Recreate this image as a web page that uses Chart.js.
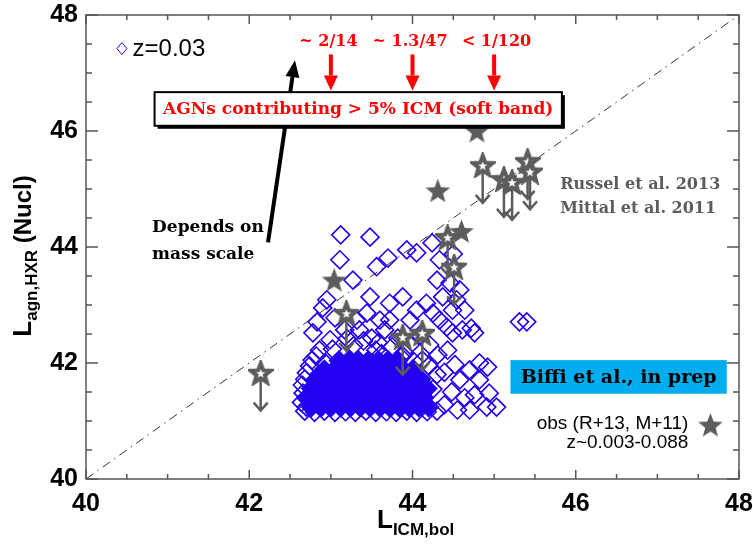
<!DOCTYPE html>
<html>
<head>
<meta charset="utf-8">
<script src="https://cdn.jsdelivr.net/npm/chart.js@4.4.0/dist/chart.umd.min.js"></script>
<style>html,body{margin:0;padding:0;background:#fff;}canvas{display:block;}</style>
</head>
<body>
<canvas id="myChart" width="753" height="551"></canvas>
<script>
// simulated AGN (z=0.03), hollow diamonds
var blueX = [43.12,43.48,43.11,43.27,43.56,43.70,43.93,44.05,44.24,44.33,44.50,44.30,44.46,44.58,44.37,44.54,44.64,44.49,44.72,44.61,44.76,44.49,
  44.82,44.92,44.70,44.82,44.94,45.03,44.91,45.31,45.40,42.95,42.90,42.83,42.78,42.70,42.66,42.70,43.48,43.72,43.88,44.05,43.97,44.17,44.25,44.33,44.42,
  43.44,43.32,43.60,43.72,43.05,43.17,42.99,42.86,42.77,43.35,43.50,43.66,43.82,43.97,44.09,44.21,44.31,44.43,44.52,44.39,44.58,44.48,44.64,44.76,44.70,44.55,44.39,
  42.68,42.80,42.92,43.05,43.18,43.30,43.43,43.55,43.68,43.80,43.93,44.05,44.18,44.30,
  42.64,42.65,42.68,42.74,42.82,43.20,43.40,43.58,43.75,43.90,44.25,44.30,44.20,
  43.02,43.28,43.55,43.86,44.12,42.93,43.62,44.02];
var blueY = [44.21,44.17,43.78,43.43,43.66,43.81,43.95,43.90,44.07,43.78,43.88,43.43,43.38,43.26,43.14,43.09,42.91,42.91,42.60,42.57,42.52,42.52,
  42.00,41.93,41.88,41.71,41.48,41.24,41.24,42.71,42.71,43.09,42.95,42.71,42.52,41.83,41.48,41.24,43.14,43.03,43.14,42.91,42.74,43.03,42.86,42.74,42.62,
  42.86,42.74,42.74,42.74,42.78,42.57,42.40,42.22,42.05,42.57,42.43,42.57,42.43,42.31,42.48,42.31,42.14,42.22,41.97,41.84,41.71,41.50,41.40,41.45,41.19,41.19,41.28,
  41.17,41.15,41.17,41.15,41.16,41.15,41.17,41.15,41.16,41.15,41.17,41.15,41.16,41.17,
  41.32,41.62,41.72,41.95,42.12,42.42,42.38,42.35,42.28,42.18,41.55,41.80,41.95,
  42.24,42.30,42.22,42.10,42.05,42.00,42.16,42.02];
// the dense part of the same cloud
var coreX = [42.76,42.88,43.00,43.12,43.24,43.36,43.48,43.60,43.72,43.84,43.96,44.08,44.20,
  42.70,42.82,42.94,43.06,43.18,43.30,43.42,43.54,43.66,43.78,43.90,44.02,44.14,
  42.76,42.88,43.00,43.12,43.24,43.36,43.48,43.60,43.72,43.84,43.96,44.08,44.18,
  42.82,42.94,43.06,43.18,43.30,43.42,43.54,43.66,43.78,43.90,44.02,44.10,
  42.92,43.04,43.16,43.28,43.40,43.52,43.64,43.76,43.88,44.00,
  43.10,43.22,43.34,43.46,43.58,43.70,43.82];
var coreY = [41.24,41.24,41.24,41.24,41.24,41.24,41.24,41.24,41.24,41.24,41.24,41.24,41.24,
  41.40,41.40,41.40,41.40,41.40,41.40,41.40,41.40,41.40,41.40,41.40,41.40,41.40,
  41.56,41.56,41.56,41.56,41.56,41.56,41.56,41.56,41.56,41.56,41.56,41.56,41.56,
  41.72,41.72,41.72,41.72,41.72,41.72,41.72,41.72,41.72,41.72,41.72,41.72,
  41.88,41.88,41.88,41.88,41.88,41.88,41.88,41.88,41.88,41.88,
  42.04,42.04,42.04,42.04,42.04,42.04,42.04];
// observations, detections (filled stars)
var obsX = [44.79,44.31,44.60,43.04];
var obsY = [46.00,44.97,44.27,43.43];
// observations, upper limits (open stars + arrow)
var limX = [42.14,43.19,43.88,44.12,44.43,44.51,44.86,45.12,45.22,45.41,45.44];
var limY = [41.83,42.86,42.45,42.52,44.17,43.66,45.41,45.17,45.12,45.48,45.30];
var limDrop = 0.65;
var fracLabels = ["~ 2/14", "~ 1.3/47", "< 1/120"];
var fracX = [43, 44, 45];

var blue = '#2400f0', grey = '#5c5c5c';

function pts(xs, ys) { return xs.map(function (x, i) { return {x: x, y: ys[i]}; }); }

function makeStar(size, fill, lw) {
  var c = document.createElement('canvas');
  c.width = c.height = size;
  var g = c.getContext('2d'), m = size / 2, R = m - lw / 2 - 0.5, r = R * 0.42;
  g.beginPath();
  for (var k = 0; k < 10; k++) {
    var a = -Math.PI / 2 + k * Math.PI / 5, rr = k % 2 ? r : R;
    g.lineTo(m + rr * Math.cos(a), m + rr * Math.sin(a) + 1);
  }
  g.closePath();
  g.fillStyle = fill; g.fill();
  if (lw) { g.lineWidth = lw; g.strokeStyle = grey; g.stroke(); }
  return c;
}
var starFull = makeStar(27, grey, 0);
var starOpen = makeStar(26, '#fff', 4);

function arrow(ctx, x0, y0, x1, y1, w, head, hw) {
  var a = Math.atan2(y1 - y0, x1 - x0), bx = x1 - head * Math.cos(a), by = y1 - head * Math.sin(a);
  ctx.lineWidth = w;
  ctx.beginPath(); ctx.moveTo(x0, y0); ctx.lineTo(bx, by); ctx.stroke();
  ctx.beginPath(); ctx.moveTo(x1, y1);
  ctx.lineTo(bx + hw * Math.sin(a), by - hw * Math.cos(a));
  ctx.lineTo(bx - hw * Math.sin(a), by + hw * Math.cos(a));
  ctx.closePath(); ctx.fill();
}

var annotate = {
  id: 'annotate',
  beforeDatasetDraw: function (chart, args) {
    if (args.index !== 1) return;
    var xs = chart.scales.x, ys = chart.scales.y, ctx = chart.ctx;
    ctx.save();
    ctx.strokeStyle = grey; ctx.lineWidth = 2.5;
    limX.forEach(function (x, i) {
      var px = xs.getPixelForValue(x), top = ys.getPixelForValue(limY[i]), tip = ys.getPixelForValue(limY[i] - limDrop);
      ctx.beginPath(); ctx.moveTo(px, top); ctx.lineTo(px, tip);
      ctx.moveTo(px - 7, tip - 8); ctx.lineTo(px, tip); ctx.lineTo(px + 7, tip - 8); ctx.stroke();
    });
    ctx.restore();
  },
  afterDraw: function (chart) {
    var ctx = chart.ctx, xs = chart.scales.x, ys = chart.scales.y, a = chart.chartArea;
    var X = function (v) { return xs.getPixelForValue(v); }, Y = function (v) { return ys.getPixelForValue(v); };
    ctx.save();
    // frame with inward ticks on all sides
    ctx.strokeStyle = '#555'; ctx.lineWidth = 1.5;
    ctx.strokeRect(a.left, a.top, a.right - a.left, a.bottom - a.top);
    ctx.beginPath();
    for (var v = 40; v <= 48.001; v += 0.5) {
      var major = Math.abs(v / 2 - Math.round(v / 2)) < 0.01;
      var lx = major ? 9 : 5, ly = major ? 12 : 6, px = X(v), py = Y(v);
      ctx.moveTo(px, a.bottom); ctx.lineTo(px, a.bottom - lx);
      ctx.moveTo(px, a.top); ctx.lineTo(px, a.top + lx);
      ctx.moveTo(a.left, py); ctx.lineTo(a.left + ly, py);
      ctx.moveTo(a.right, py); ctx.lineTo(a.right - ly, py);
    }
    ctx.stroke();

    // axis titles
    ctx.fillStyle = '#000'; ctx.textBaseline = 'alphabetic'; ctx.textAlign = 'left';
    var big = 'bold 26px "Liberation Sans"', sub = 'bold 17px "Liberation Sans"';
    ctx.font = big; var wL = ctx.measureText('L').width;
    var x0 = 377;
    ctx.font = big; ctx.fillText('L', x0, 528);
    ctx.font = sub; ctx.fillText('ICM,bol', x0 + wL, 535);

    ctx.save();
    ctx.translate(31, 256); ctx.rotate(-Math.PI / 2);
    ctx.font = big; var w1 = ctx.measureText('L').width;
    ctx.font = sub; var w2 = ctx.measureText('agn,HXR').width;
    ctx.font = 'bold 24px "Liberation Sans"'; var w3 = ctx.measureText(' (Nucl)').width;
    var s = -(w1 + w2 + w3) / 2;
    ctx.font = big; ctx.fillText('L', s, 0);
    ctx.font = sub; ctx.fillText('agn,HXR', s + w1, 6);
    ctx.font = 'bold 24px "Liberation Sans"'; ctx.fillText(' (Nucl)', s + w1 + w2, 0);
    ctx.restore();

    // z=0.03 legend
    ctx.strokeStyle = blue; ctx.lineWidth = 1;
    var dx = X(40.44), dy = Y(47.42);
    ctx.beginPath(); ctx.moveTo(dx, dy - 6); ctx.lineTo(dx + 5, dy); ctx.lineTo(dx, dy + 6); ctx.lineTo(dx - 5, dy); ctx.closePath(); ctx.stroke();
    ctx.fillStyle = '#000'; ctx.font = '24px "Liberation Sans"'; ctx.textBaseline = 'middle';
    ctx.fillText('z=0.03', X(40.57), dy + 1);

    // red fractions and arrows
    ctx.fillStyle = '#f00'; ctx.strokeStyle = '#f00'; ctx.textAlign = 'center';
    ctx.font = 'bold 16px "DejaVu Serif"';
    fracX.forEach(function (x, i) {
      ctx.fillText(fracLabels[i], X(x + (i === 2 ? 0.03 : -0.03)), Y(47.53));
      arrow(ctx, X(x), Y(47.32), X(x), Y(46.7), 4, 15, 7);
    });

    // black arrow (behind the box)
    ctx.fillStyle = '#000'; ctx.strokeStyle = '#000';
    arrow(ctx, X(42.23), Y(44.08), X(42.56), Y(47.22), 4, 17, 7);

    // AGN box
    var bx0 = X(40.84), bx1 = X(45.83), by0 = Y(46.67), by1 = Y(46.09);
    ctx.fillStyle = '#000'; ctx.fillRect(bx0 + 3, by0 + 3, bx1 - bx0, by1 - by0);
    ctx.fillStyle = '#fff'; ctx.fillRect(bx0, by0, bx1 - bx0, by1 - by0);
    ctx.strokeStyle = '#000'; ctx.lineWidth = 2; ctx.strokeRect(bx0, by0, bx1 - bx0, by1 - by0);
    ctx.fillStyle = '#f00'; ctx.font = 'bold 17px "DejaVu Serif"';
    ctx.fillText('AGNs contributing > 5% ICM (soft band)', (bx0 + bx1) / 2, (by0 + by1) / 2 + 1);

    ctx.fillStyle = '#000'; ctx.textAlign = 'left'; ctx.font = 'bold 17px "DejaVu Serif"';
    ctx.fillText('Depends on', X(40.81), Y(44.33));
    ctx.fillText('mass scale', X(40.81), Y(43.87));

    ctx.fillStyle = grey; ctx.font = 'bold 16px "DejaVu Serif"';
    ctx.fillText('Russel et al. 2013', X(45.81), Y(45.07));
    ctx.fillText('Mittal et al. 2011', X(45.81), Y(44.66));

    // Biffi box
    var cx0 = X(45.2), cx1 = X(47.85), cy0 = Y(42.05), cy1 = Y(41.47);
    ctx.fillStyle = '#00aeef'; ctx.fillRect(cx0, cy0, cx1 - cx0, cy1 - cy0);
    ctx.fillStyle = '#000'; ctx.textAlign = 'center'; ctx.font = 'bold 19px "DejaVu Serif"';
    ctx.fillText('Biffi et al., in prep', (cx0 + cx1) / 2, (cy0 + cy1) / 2 + 1);

    // obs legend
    ctx.textAlign = 'right'; ctx.font = '19px "Liberation Sans"';
    ctx.fillText('obs (R+13, M+11)', X(47.38), Y(40.95));
    ctx.fillText('z~0.003-0.088', X(47.38), Y(40.62));
    ctx.drawImage(starFull, X(47.65) - 13.5, Y(40.93) - 13.5);
    ctx.restore();
  }
};

var tickFont = {family: 'Liberation Sans', size: 25, weight: 'bold'};

new Chart(document.getElementById('myChart'), {
  type: 'scatter',
  data: {
    datasets: [
      {label: 'obs', data: pts(obsX, obsY), pointStyle: starFull, pointRadius: 13},
      {label: 'obs limits', data: pts(limX, limY), pointStyle: starOpen, pointRadius: 13},
      {label: 'z=0.03', data: pts(blueX, blueY), pointStyle: 'rectRot', pointRadius: 9,
        borderColor: blue, backgroundColor: 'rgba(0,0,0,0)', borderWidth: 1.6},
      {label: 'z=0.03 core', data: pts(coreX, coreY), pointStyle: 'rectRot', pointRadius: 9.5,
        borderColor: blue, backgroundColor: blue, borderWidth: 1.6},
      {label: '1:1', data: [{x: 40, y: 40}, {x: 48, y: 48}], showLine: true, pointRadius: 0,
        borderColor: '#333', borderWidth: 1, borderDash: [9, 5, 1.5, 5]}
    ]
  },
  options: {
    responsive: false,
    animation: false,
    layout: {padding: {top: 15, right: 13, left: 0, bottom: 0}},
    plugins: {legend: {display: false}, tooltip: {enabled: false}},
    scales: {
      x: {
        min: 40, max: 48,
        ticks: {stepSize: 2, font: tickFont, color: '#000', padding: 10, maxRotation: 0},
        grid: {display: false, drawTicks: false}, border: {display: false},
        afterFit: function (s) { s.height = 72; s.paddingLeft = 0; s.paddingRight = 0; }
      },
      y: {
        min: 40, max: 48,
        ticks: {stepSize: 2, font: tickFont, color: '#000', padding: 8},
        grid: {display: false, drawTicks: false}, border: {display: false},
        afterFit: function (s) { s.width = 86; s.paddingTop = 0; s.paddingBottom = 0; }
      }
    }
  },
  plugins: [annotate]
});
</script>
</body>
</html>
